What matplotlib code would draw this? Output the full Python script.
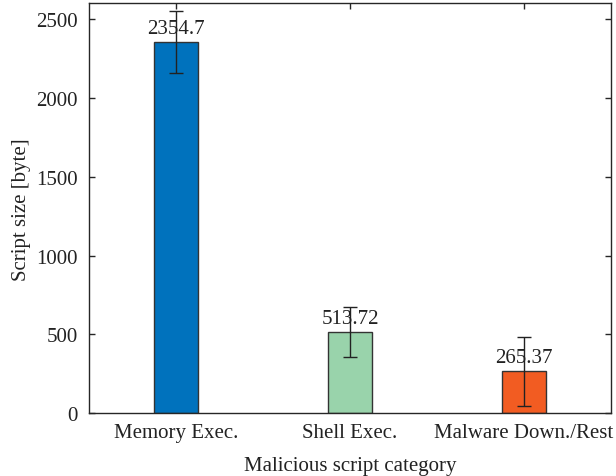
import numpy as np
import matplotlib.pyplot as plt

categories = ["Memory Exec.", "Shell Exec.", "Malware Down./Rest"]
sizes = [2354.7, 513.72, 265.37]
errors = [197, 158, 217]
labels = ["2354.7", "513.72", "265.37"]
colors = ["#0072BD", "#99D3AB", "#F25C22"]

plt.rcParams['font.family'] = ['Liberation Serif', 'DejaVu Serif']
plt.rcParams['font.size'] = 15

fig = plt.figure(figsize=(6.16, 4.77), dpi=100)
ax = fig.add_axes([0.1445, 0.1314, 0.8475, 0.8596])

x = np.arange(1, len(categories) + 1)
ax.bar(x, sizes, width=0.25, color=colors, edgecolor="#333333", linewidth=1, zorder=2)
ax.errorbar(x, sizes, yerr=errors, fmt='none', ecolor="#222222", elinewidth=1,
            capsize=5, capthick=1, zorder=3)

for xi, s, lab in zip(x, sizes, labels):
    ax.annotate(lab, (xi, s), xytext=(0, 3), textcoords="offset points",
                ha="center", va="bottom", fontsize=15, color="#222222", zorder=1)

ax.set_xlim(0.5, 3.5)
ax.set_ylim(0, 2600)
ax.set_xticks(x)
ax.set_xticklabels(categories)
ax.set_yticks([0, 500, 1000, 1500, 2000, 2500])
ax.tick_params(direction="in", top=True, right=True, length=4, width=1, colors="#262626",
               labelcolor="#222222")
ax.tick_params(axis="y", pad=8)
ax.tick_params(axis="x", pad=7)
for sp in ax.spines.values():
    sp.set_color("#262626")
    sp.set_linewidth(1)

ax.set_xlabel("Malicious script category", color="#222222", labelpad=10)
ax.set_ylabel("Script size [byte]", color="#222222", labelpad=4)

fig.savefig("out.png", dpi=100)
